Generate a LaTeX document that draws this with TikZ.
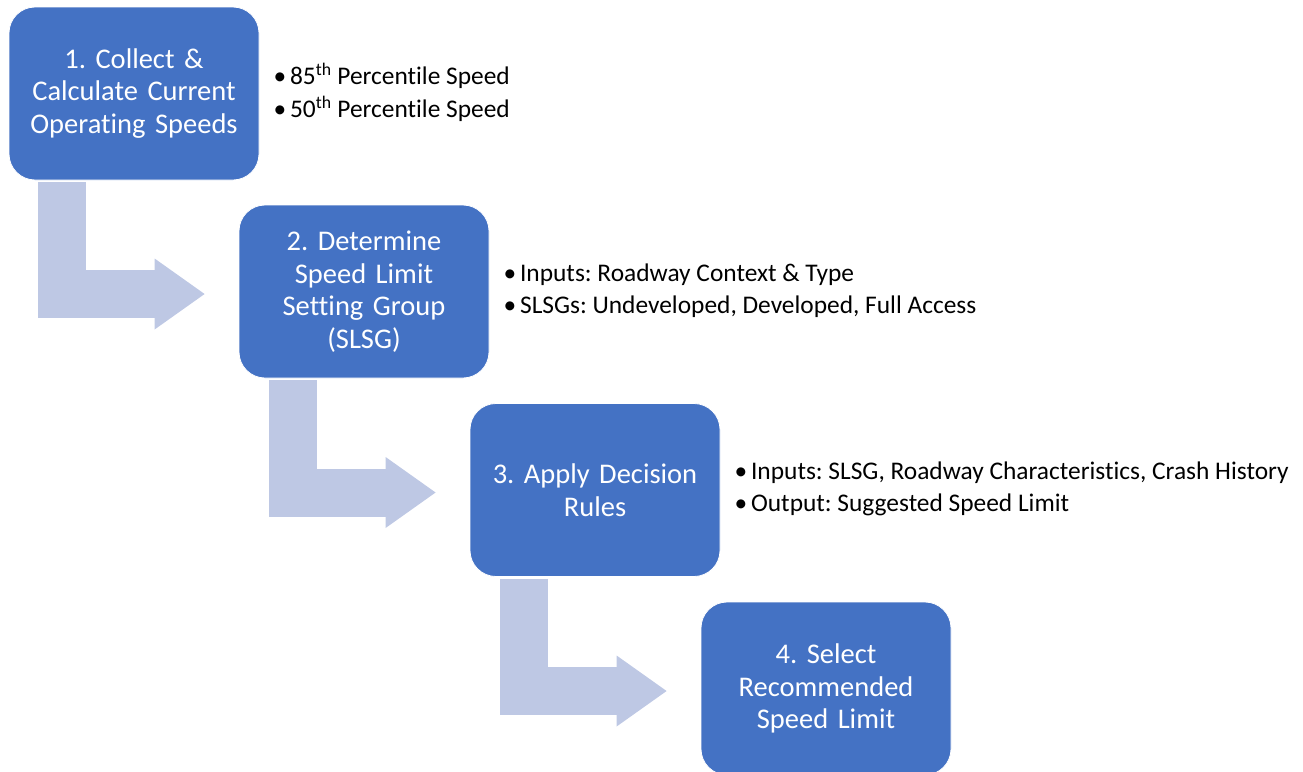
\documentclass[tikz,border=0pt]{standalone}
\usepackage{fontspec}
\setmainfont{Carlito}[Ligatures=CommonOff]
\usetikzlibrary{arrows.meta,calc}
\definecolor{boxblue}{HTML}{4472C4}
\definecolor{arrowblue}{HTML}{BEC8E4}
\frenchspacing
\tikzset{
  stepbox/.style={draw=white, line width=0.8pt, fill=boxblue, rounded corners=26pt,
    minimum width=250pt, minimum height=173pt, text width=244pt, align=center,
    text=white, font=\fontsize{28.5}{32.5}\selectfont, inner sep=0pt},
  notes/.style={anchor=west, align=left, text=black, inner sep=0pt,
    font=\fontsize{25.4}{32.5}\selectfont},
  bentarrow/.style={draw=arrowblue, line width=48pt, line join=miter, line cap=butt,
    -{Triangle[length=50pt, width=71pt, line width=0pt]}}
}
\newcommand{\bul}{\makebox[16.5pt][l]{•}}
\begin{document}
\begin{tikzpicture}[x=1pt, y=-1pt]
\useasboundingbox (0,0) rectangle (1303,771);
\node[stepbox] (b1) at (134,93.5) {1. Collect \&\\Calculate Current\\Operating Speeds};
\node[stepbox] (b2) at (364,291.5) {2. Determine\\Speed Limit\\Setting Group\\(SLSG)};
\node[stepbox] (b3) at (595,490) {3. Apply Decision\\Rules};
\node[stepbox] (b4) at (826,688.5) {4. Select\\Recommended\\Speed Limit};
\node[notes] (n1) at ($(b1.east)+(14,-1)$) {\bul 85\textsuperscript{th} Percentile Speed\\\bul 50\textsuperscript{th} Percentile Speed};
\node[notes] (n2) at ($(b2.east)+(14,-1)$) {\bul Inputs: Roadway Context \& Type\\\bul SLSGs: Undeveloped, Developed, Full Access};
\node[notes] (n3) at ($(b3.east)+(14,-1)$) {\bul Inputs: SLSG, Roadway Characteristics, Crash History\\\bul Output: Suggested Speed Limit};
\draw[bentarrow] ($(b1.south west)+(53,2)$) |- ($(b2.west)+(-34,2.5)$);
\draw[bentarrow] ($(b2.south west)+(54,2)$) |- ($(b3.west)+(-34,2.5)$);
\draw[bentarrow] ($(b3.south west)+(54,2)$) |- ($(b4.west)+(-34,2.5)$);
\end{tikzpicture}
\end{document}
